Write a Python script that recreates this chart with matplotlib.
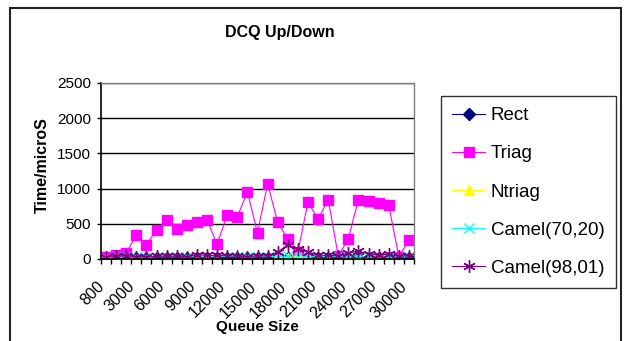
import numpy as np
import matplotlib.pyplot as plt
import matplotlib.transforms as mtransforms
from matplotlib.patches import Rectangle

plt.rcParams['font.family'] = ['Liberation Sans', 'DejaVu Sans']

# queue sizes (category axis)
queue_sizes = ['800'] + [str(k * 1000) for k in range(1, 31)]
shown_labels = ['800', '3000', '6000', '9000', '12000', '15000',
                '18000', '21000', '24000', '27000', '30000']

rect = [10, 12, 15, 15, 15, 15, 15, 15, 15, 18, 18, 18, 18, 18, 18, 18,
        18, 20, 20, 20, 20, 18, 18, 18, 18, 18, 18, 18, 18, 18, 18]
triag = [30, 60, 85, 340, 205, 410, 560, 420, 485, 525, 550, 215, 620, 600,
         955, 370, 1070, 520, 285, 100, 810, 565, 845, 40, 290, 845, 825,
         790, 760, 35, 265]
ntriag = [5, 5, 5, 5, 5, 5, 5, 5, 5, 5, 5, 5, 5, 5, 5, 5, 5, 60, 10, 50,
          10, 5, 5, 5, 5, 5, 5, 5, 5, 5, 5]
camel_70_20 = [20, 25, 30, 25, 25, 30, 30, 30, 30, 35, 35, 35, 35, 30, 30,
               30, 30, 35, 40, 45, 35, 35, 35, 30, 30, 35, 35, 30, 30, 30, 35]
camel_98_01 = [25, 40, 45, 30, 30, 40, 40, 40, 35, 60, 55, 50, 45, 40, 35,
               45, 45, 100, 200, 140, 100, 55, 50, 45, 85, 115, 70, 60, 65,
               40, 45]

x = np.arange(len(queue_sizes))

fig = plt.figure(figsize=(6.33, 3.41), dpi=100)
ax = fig.add_axes([101 / 633, 1 - 259 / 341, 313 / 633, 176 / 341])

ax.plot(x, rect, color='#000080', marker='D', markersize=6, lw=0.8, label='Rect')
ax.plot(x, triag, color='#FF00FF', marker='s', markersize=7, lw=0.8, label='Triag')
ax.plot(x, ntriag, color='#FFFF00', marker='^', markersize=7, lw=0.8, label='Ntriag')
ax.plot(x, camel_70_20, color='#00FFFF', marker='x', markersize=7, mew=1,
        lw=0.8, label='Camel(70,20)')
ax.plot(x, camel_98_01, color='#800080', marker=(6, 2, 0), markersize=9,
        mew=1, lw=0.8, label='Camel(98,01)')

ax.set_xlim(-0.5, len(x) - 0.5)
ax.set_ylim(0, 2500)
ax.set_yticks(range(0, 2501, 500))
ax.yaxis.grid(True, color='black', lw=1)
ax.set_axisbelow(True)

# category ticks sit between the points, labels every third category
ax.set_xticks(np.arange(-0.5, len(x), 1), minor=True)
idx = [queue_sizes.index(s) for s in shown_labels]
ax.set_xticks(idx)
ax.set_xticklabels(shown_labels, rotation=45, ha='right', va='center',
                   rotation_mode='anchor', fontsize=11.5)
ax.tick_params(axis='x', which='major', length=0, pad=18)
ax.tick_params(axis='x', which='minor', length=3.5, width=1, color='black',
               direction='out')
ax.tick_params(axis='y', length=3, width=1, color='black', labelsize=11, pad=4)

shift = mtransforms.ScaledTranslation(-4 / 100, 0, fig.dpi_scale_trans)
for lbl in ax.get_xticklabels():
    lbl.set_transform(lbl.get_transform() + shift)

for side in ['top', 'right']:
    ax.spines[side].set_color('#808080')
    ax.spines[side].set_linewidth(1)
ax.spines['left'].set_color('black')
ax.spines['bottom'].set_color('black')
ax.spines['left'].set_linewidth(1.2)
ax.spines['bottom'].set_linewidth(1.2)

ax.set_xlabel('Queue Size', fontsize=11, fontweight='bold', va='center')
ax.xaxis.set_label_coords(0.5, (259 - 327) / 176)
ax.set_ylabel('Time/microS', fontsize=11.5, fontweight='bold', va='center')
ax.yaxis.set_label_coords((42 - 101) / 313, (259 - 165) / 176)

fig.text(280 / 633, 1 - 33 / 341, 'DCQ Up/Down', fontsize=11.5,
         fontweight='bold', ha='center', va='center')

leg = fig.legend(loc='upper left', bbox_to_anchor=(441 / 633, 1 - 96 / 341),
                 fontsize=13.5, frameon=True, fancybox=False,
                 edgecolor='black', borderaxespad=0, handlelength=1.75,
                 handletextpad=0.3, labelspacing=1.12, borderpad=0.6)
leg.get_frame().set_linewidth(1)

# outer chart border
fig.patches.append(Rectangle((10 / 633, -0.1), 611 / 633, 1.1 - 8 / 341,
                             transform=fig.transFigure, fill=False,
                             edgecolor='#222222', lw=1.5))

fig.savefig('out.png', dpi=100)
